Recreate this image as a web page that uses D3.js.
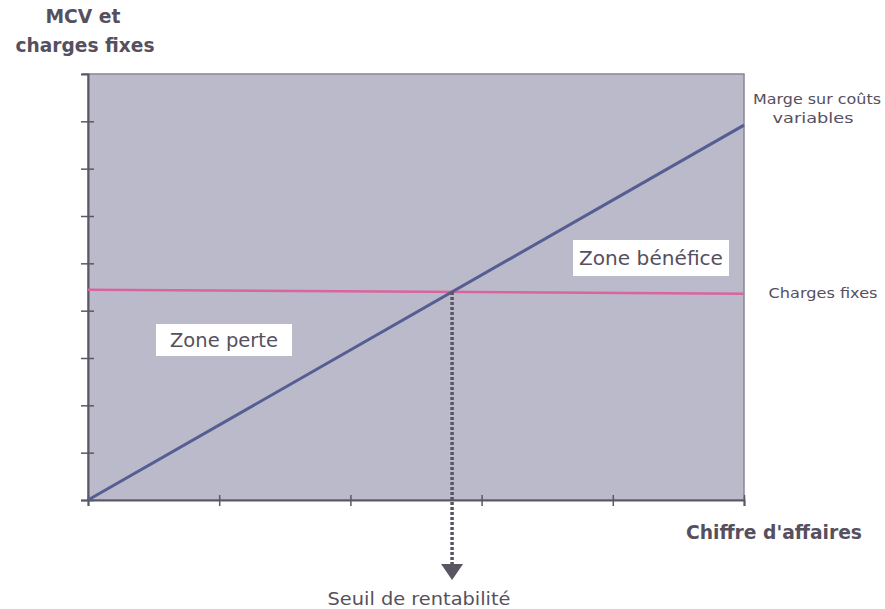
<!DOCTYPE html>
<html>
<head>
<meta charset="utf-8">
<script src="https://cdn.jsdelivr.net/npm/d3@7"></script>
<style>
  body { margin: 0; background: #fff; }
  svg text { font-family: "DejaVu Sans", "Liberation Sans", sans-serif; fill: #56505e; }
</style>
</head>
<body>
<svg id="chart" width="885" height="609"></svg>
<script>
// chiffre d'affaires (x) and MCV / charges fixes (y), arbitrary units
const caTicks = [0, 1, 2, 3, 4, 5];
const yTicks = [0, 1, 2, 3, 4, 5, 6, 7, 8, 9];
const caValues = [0, 5];
const mcvValues = [0, 7.92];
const chargesFixes = [4.44, 4.36];

const svg = d3.select('#chart');
const margin = { left: 88, top: 74, right: 141, bottom: 109 };
const W = 885 - margin.left - margin.right;
const H = 609 - margin.top - margin.bottom;

const x = d3.scaleLinear().domain([0, 5]).range([margin.left, margin.left + W]);
const y = d3.scaleLinear().domain([0, 9]).range([margin.top + H, margin.top]);

const ink = '#5c5764';

// plot background
svg.append('rect')
    .attr('x', x(0)).attr('y', y(9))
    .attr('width', x(5) - x(0)).attr('height', y(0) - y(9))
    .attr('fill', '#bbbacb')
    .attr('stroke', '#8a8595')
    .attr('stroke-width', 1.5);
svg.append('line')
    .attr('x1', x(0) - 6).attr('x2', x(0)).attr('y1', y(9)).attr('y2', y(9))
    .attr('stroke', '#8a8595').attr('stroke-width', 1.5);

// axes (ticks cross the axis line)
const yAxis = svg.append('g')
    .attr('transform', `translate(${x(0)},0)`)
    .call(d3.axisLeft(y).tickValues(yTicks.slice(0, -1)).tickSize(7).tickFormat(''));
yAxis.selectAll('.tick line').attr('x2', -7).attr('x1', 6);

const xAxis = svg.append('g')
    .attr('transform', `translate(0,${y(0)})`)
    .call(d3.axisBottom(x).tickValues(caTicks).tickSize(6).tickFormat(''));
xAxis.selectAll('.tick line').attr('y1', -5).attr('y2', 6);

svg.selectAll('.domain').attr('stroke', ink).attr('stroke-width', 2);
svg.selectAll('.tick line').attr('stroke', ink).attr('stroke-width', 1.5);

// charges fixes line
const line = d3.line().x((d, i) => x(caValues[i])).y(d => y(d));
svg.append('path')
    .datum(chargesFixes)
    .attr('d', line)
    .attr('fill', 'none')
    .attr('stroke', '#d9649f')
    .attr('stroke-width', 2.5);

// MCV line
svg.append('path')
    .datum(mcvValues)
    .attr('d', line)
    .attr('fill', 'none')
    .attr('stroke', '#555d92')
    .attr('stroke-width', 3);

// break-even point
const slopeM = (mcvValues[1] - mcvValues[0]) / (caValues[1] - caValues[0]);
const slopeF = (chargesFixes[1] - chargesFixes[0]) / (caValues[1] - caValues[0]);
const seuil = (chargesFixes[0] - mcvValues[0]) / (slopeM - slopeF);
const seuilY = mcvValues[0] + slopeM * seuil;

svg.append('line')
    .attr('x1', x(seuil)).attr('y1', y(seuilY))
    .attr('x2', x(seuil)).attr('y2', 566)
    .attr('stroke', '#5a5560')
    .attr('stroke-width', 3.5)
    .attr('stroke-dasharray', '3,2');
svg.append('path')
    .attr('d', `M${x(seuil) - 11},564 L${x(seuil) + 11},564 L${x(seuil)},580 Z`)
    .attr('fill', '#5a5560');

// text helper, widths matched to the scan
function label(tx, ty, size, len, txt, bold) {
    svg.append('text')
        .attr('x', tx).attr('y', ty)
        .attr('text-anchor', 'middle')
        .attr('font-size', size)
        .attr('font-weight', bold ? 'bold' : 'normal')
        .attr('textLength', len)
        .attr('lengthAdjust', 'spacingAndGlyphs')
        .text(txt);
}

// zone labels
function zoneLabel(cx, cy, w, h, len, txt) {
    svg.append('rect')
        .attr('x', cx - w / 2).attr('y', cy - h / 2)
        .attr('width', w).attr('height', h)
        .attr('fill', '#fff');
    label(cx, cy + 7, 19, len, txt);
}
zoneLabel(651, 258, 156, 36, 144, 'Zone bénéfice');
zoneLabel(224, 340, 136, 32, 108, 'Zone perte');

// titles
label(83, 23, 19, 75, 'MCV et', true);
label(85, 52, 19, 139, 'charges fixes', true);

label(817, 104, 14, 128, 'Marge sur coûts');
label(813, 123, 14, 81, 'variables');

label(823, 298, 14, 109, 'Charges fixes');

label(774, 539, 20, 176, "Chiffre d'affaires", true);

label(419, 605, 17, 183, 'Seuil de rentabilité');
</script>
</body>
</html>
